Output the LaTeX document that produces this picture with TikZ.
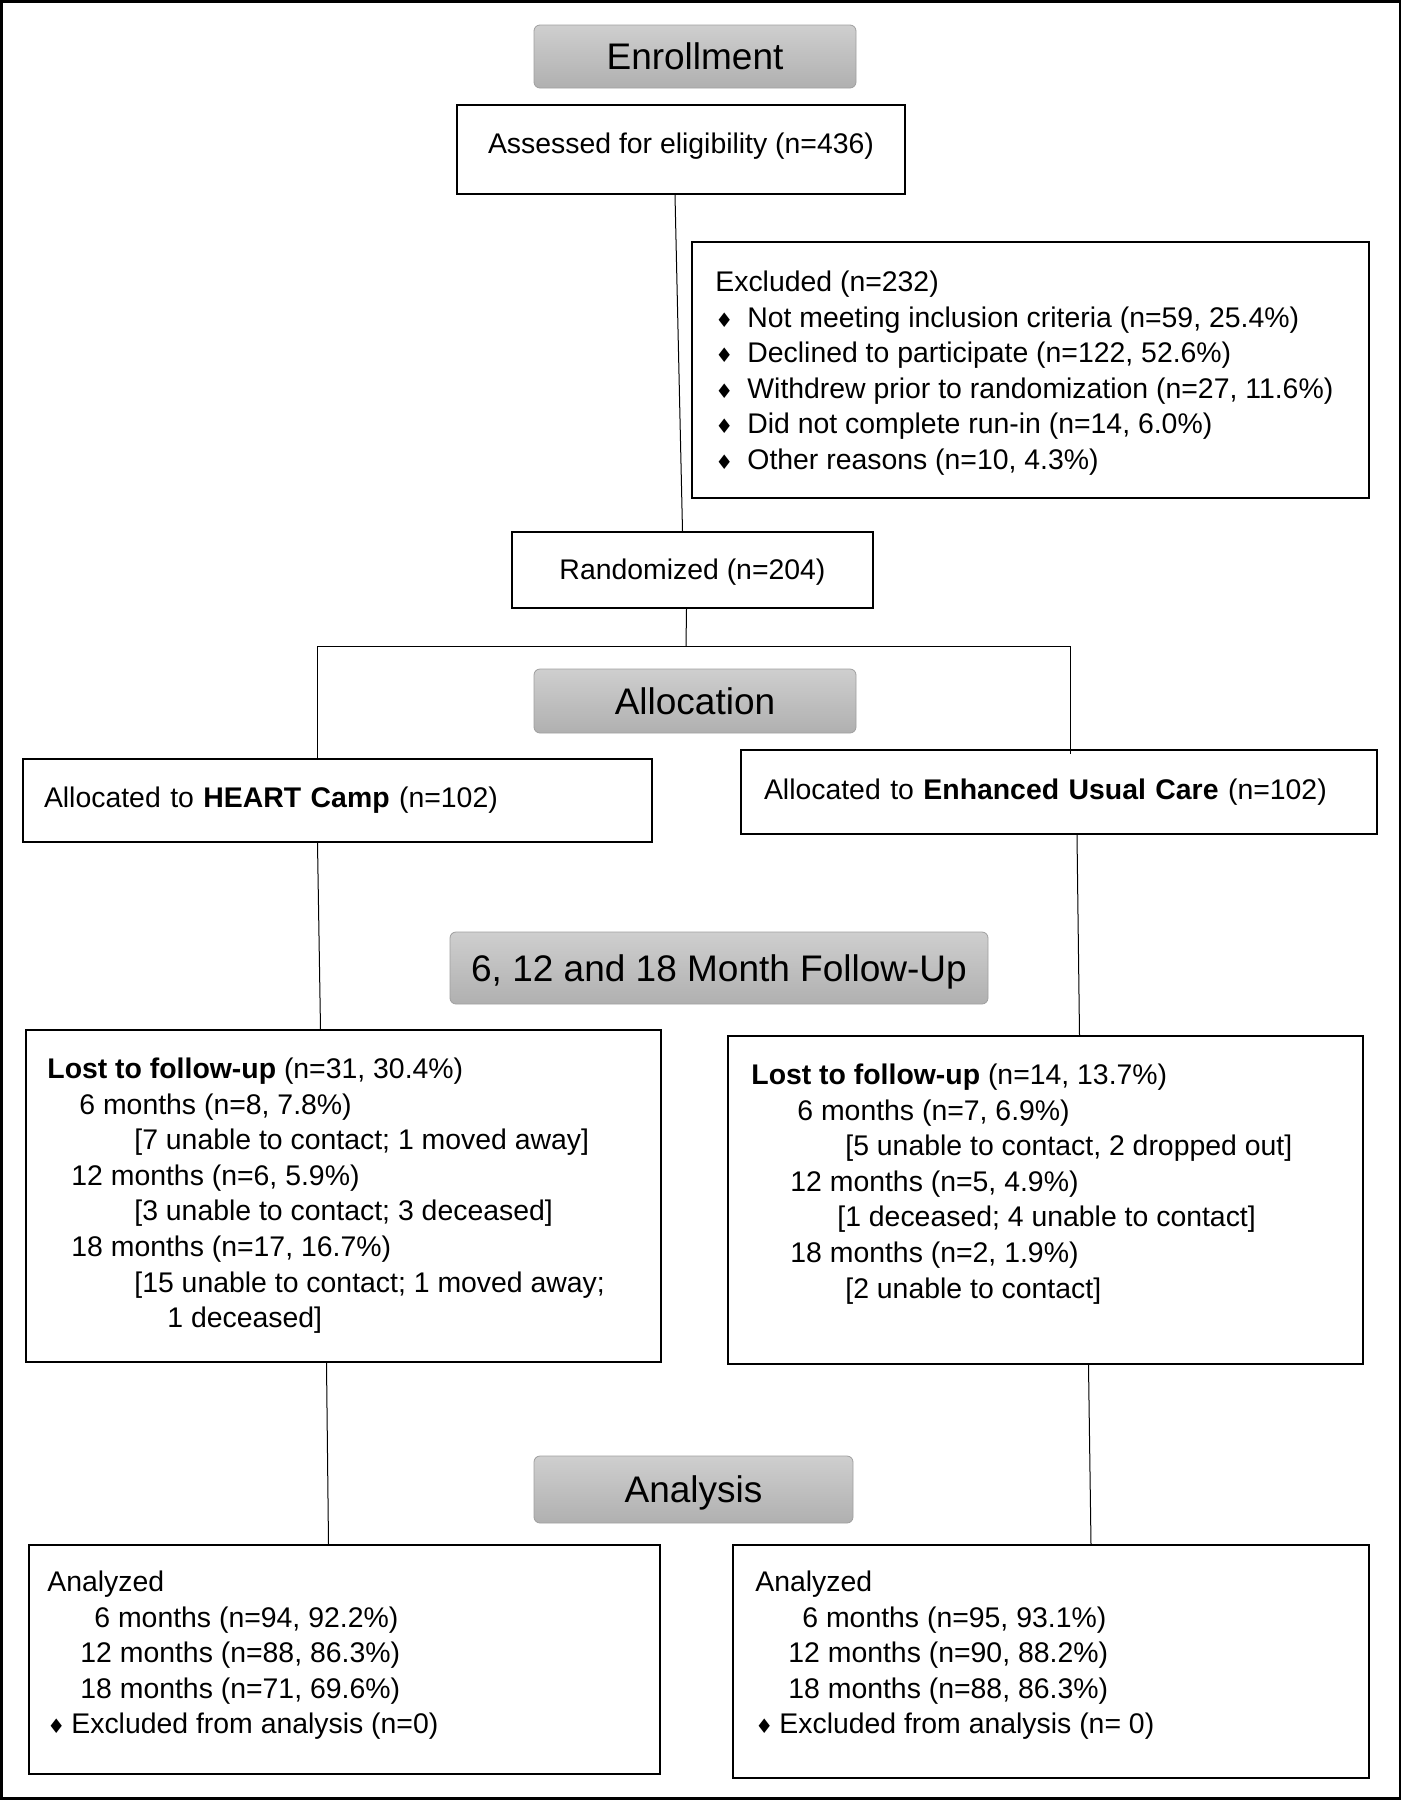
\documentclass[tikz,border=0pt]{standalone}
\usepackage{fontspec}
\setmainfont{Liberation Sans}
\newfontfamily\symfont{DejaVu Sans}
\usetikzlibrary{calc}
\newcommand\bul[2][0pt]{\hspace*{#1}\makebox[#2][l]{{\symfont\fontsize{10}{10}\selectfont ♦}}}

\begin{document}
\begin{tikzpicture}[x=0.5pt, y=-0.5pt, font=\fontsize{14.2}{17.8}\selectfont,
  box/.style={draw, line width=1pt, inner sep=0pt},
  phase/.style={draw=gray!75, rounded corners=3pt, top color=gray!38, bottom color=gray!62, font=\fontsize{18.5}{22}\selectfont, inner sep=0pt, text depth=0pt},
  txt/.style={anchor=north west, align=left, inner sep=0pt},
  link/.style={line width=0.5pt}]
  \useasboundingbox (0,0) rectangle (1401,1800);
  \draw[line width=1.5pt] (1,1) rectangle (1400,1798);

  % phase headers
  \node[phase, minimum width=161pt, minimum height=31.5pt] (enroll) at (695,56.5) {Enrollment};
  \node[phase, minimum width=161pt, minimum height=32pt] (alloc) at (695,701) {Allocation};
  \node[phase, minimum width=269pt, minimum height=36pt] (follow) at (719,968) {6, 12 and 18 Month Follow-Up};
  \node[phase, minimum width=159.5pt, minimum height=33.5pt] (anal) at (693.5,1489.5) {Analysis};

  % boxes
  \node[box, minimum width=224pt, minimum height=44.5pt, text depth=6.5pt] (assess) at (681,149.5) {Assessed for eligibility (n=436)};
  \node[box, minimum width=338.5pt, minimum height=128pt] (excl) at (1030.5,370) {};
  \node[box, minimum width=180.5pt, minimum height=38pt, text height=12.5pt] (rand) at (692.5,570) {Randomized (n=204)};
  \node[box, minimum height=41.5pt, inner xsep=10.5pt, text width=293.5pt, align=left] (heart) at (337.5,800.5)
    {Allocated to \textbf{HEART Camp} (n=102)};
  \node[box, minimum height=42pt, inner xsep=11.5pt, text width=295pt, align=left] (euc) at (1059,792)
    {Allocated to \textbf{Enhanced Usual Care} (n=102)};
  \node[box, minimum width=317.5pt, minimum height=166pt] (lostL) at (343.5,1196) {};
  \node[box, minimum width=317.5pt, minimum height=164pt] (lostR) at (1045.5,1200) {};
  \node[box, minimum width=315.5pt, minimum height=114.5pt] (anaL) at (344.5,1659.5) {};
  \node[box, minimum width=318pt, minimum height=116.5pt] (anaR) at (1051,1661.5) {};

  % box texts
  \node[txt] (exclT) at (715,270.5) {Excluded (n=232)\\
    \bul{16pt}Not meeting inclusion criteria (n=59, 25.4\%)\\
    \bul{16pt}Declined to participate (n=122, 52.6\%)\\
    \bul{16pt}Withdrew prior to randomization (n=27, 11.6\%)\\
    \bul{16pt}Did not complete run-in (n=14, 6.0\%)\\
    \bul{16pt}Other reasons (n=10, 4.3\%)};
  \node[txt] (lostLT) at (47,1057.5) {\textbf{Lost to follow-up} (n=31, 30.4\%)\\
    \hspace*{16pt}6 months (n=8, 7.8\%)\\
    \hspace*{43.5pt}[7 unable to contact; 1 moved away]\\
    \hspace*{12pt}12 months (n=6, 5.9\%)\\
    \hspace*{43.5pt}[3 unable to contact; 3 deceased]\\
    \hspace*{12pt}18 months (n=17, 16.7\%)\\
    \hspace*{43.5pt}[15 unable to contact; 1 moved away;\\
    \hspace*{60pt}1 deceased]};
  \node[txt] (lostRT) at (751,1063.5) {\textbf{Lost to follow-up} (n=14, 13.7\%)\\
    \hspace*{23pt}6 months (n=7, 6.9\%)\\
    \hspace*{47pt}[5 unable to contact, 2 dropped out]\\
    \hspace*{19.5pt}12 months (n=5, 4.9\%)\\
    \hspace*{43pt}[1 deceased; 4 unable to contact]\\
    \hspace*{19.5pt}18 months (n=2, 1.9\%)\\
    \hspace*{47pt}[2 unable to contact]};
  \node[txt] (anaLT) at (47,1570.5) {Analyzed\\
    \hspace*{23.5pt}6 months (n=94, 92.2\%)\\
    \hspace*{16.5pt}12 months (n=88, 86.3\%)\\
    \hspace*{16.5pt}18 months (n=71, 69.6\%)\\
    \bul{12pt}Excluded from analysis (n=0)};
  \node[txt] (anaRT) at (755,1570.5) {Analyzed\\
    \hspace*{23.5pt}6 months (n=95, 93.1\%)\\
    \hspace*{16.5pt}12 months (n=90, 88.2\%)\\
    \hspace*{16.5pt}18 months (n=88, 86.3\%)\\
    \bul{12pt}Excluded from analysis (n= 0)};

  % connectors
  \coordinate (split) at (686,646);
  \coordinate (splitL) at (317,646);
  \coordinate (splitR) at (1070,646);
  \draw[link] ($(assess.south)+(-6,0)$) -- ($(rand.north)+(-10,0)$);
  \draw[link] ($(rand.south)+(-6,0)$) -- (split);
  \draw[link] (splitL) -- (splitR);
  \draw[link] (splitL) -- (splitL |- heart.north);
  \draw[link] (splitR) -- ($(splitR |- euc.north)+(0,5)$);
  \draw[link] ($(heart.south)+(-20,0)$) -- ($(lostL.north)+(-23,0)$);
  \draw[link] ($(euc.south)+(18,0)$) -- ($(lostR.north)+(34,0)$);
  \draw[link] ($(lostL.south)+(-17,0)$) -- ($(anaL.north)+(-16,0)$);
  \draw[link] ($(lostR.south)+(43,0)$) -- ($(anaR.north)+(40,0)$);
\end{tikzpicture}
\end{document}
